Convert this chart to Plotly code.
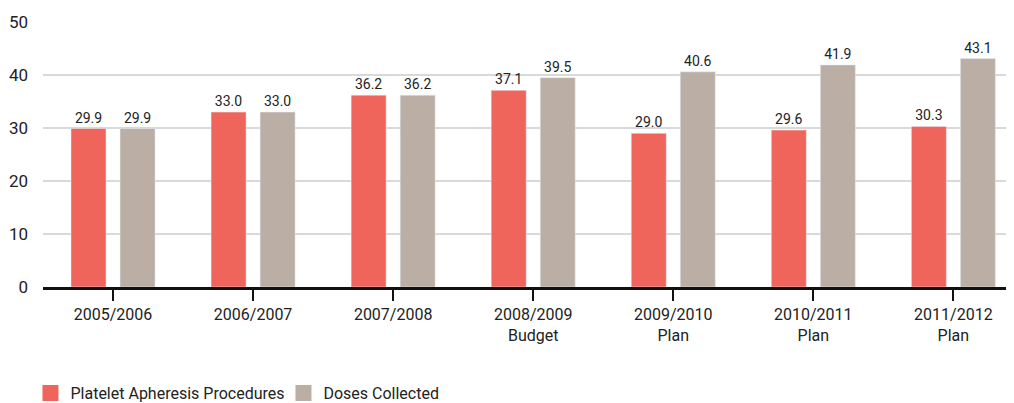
import plotly.graph_objects as go

years = ["2005/2006", "2006/2007", "2007/2008", "2008/2009<br>Budget",
         "2009/2010<br>Plan", "2010/2011<br>Plan", "2011/2012<br>Plan"]
procedures = [29.9, 33.0, 36.2, 37.1, 29.0, 29.6, 30.3]
doses = [29.9, 33.0, 36.2, 39.5, 40.6, 41.9, 43.1]

RED = "#F0655B"
GREY = "#BBAFA5"
FONT = "Roboto, Liberation Sans, sans-serif"

fig = go.Figure()
fig.add_trace(go.Bar(
    x=years, y=procedures, name="Platelet Apheresis Procedures",
    marker_color=RED, width=0.25, offset=-0.3,
    text=[f"{v:.1f}" for v in procedures], textposition="outside",
    textfont=dict(size=14, color="#222"), cliponaxis=False, showlegend=False,
))
fig.add_trace(go.Bar(
    x=years, y=doses, name="Doses Collected",
    marker_color=GREY, width=0.25, offset=0.05,
    text=[f"{v:.1f}" for v in doses], textposition="outside",
    textfont=dict(size=14, color="#222"), cliponaxis=False, showlegend=False,
))
# legend entries with big square swatches
for name, col in [("Platelet Apheresis Procedures", RED), ("Doses Collected", GREY)]:
    fig.add_trace(go.Scatter(
        x=[None], y=[None], mode="markers", name=name,
        marker=dict(symbol="square", size=20, color=col),
    ))

# the page body has an 8px margin, so the figure is drawn 8px smaller
fig.update_layout(
    width=1006, height=395,
    margin=dict(l=35, r=6, t=14, b=116, autoexpand=False),
    plot_bgcolor="white", paper_bgcolor="white",
    font=dict(family=FONT, size=16, color="#222"),
    barmode="overlay",
    showlegend=True,
    legend=dict(orientation="h", x=-0.013, xanchor="left", y=-0.4, yanchor="middle",
                font=dict(size=16), itemsizing="trace", tracegroupgap=0,
                entrywidth=208),
    xaxis=dict(
        range=[-0.5, 6.39], showgrid=False, showline=True, linecolor="#111", linewidth=2.5,
        ticks="outside", ticklen=11, tickwidth=1.5, tickcolor="#111",
        tickfont=dict(size=16), fixedrange=True, automargin=False,
    ),
    yaxis=dict(
        range=[0, 50], dtick=10, showgrid=True, gridcolor="#d9d9d9", gridwidth=1.5,
        zeroline=False, showline=False, ticks="", tickfont=dict(size=17),
        ticklabelstandoff=14, fixedrange=True, automargin=False,
    ),
)

fig.write_html("out.html")
